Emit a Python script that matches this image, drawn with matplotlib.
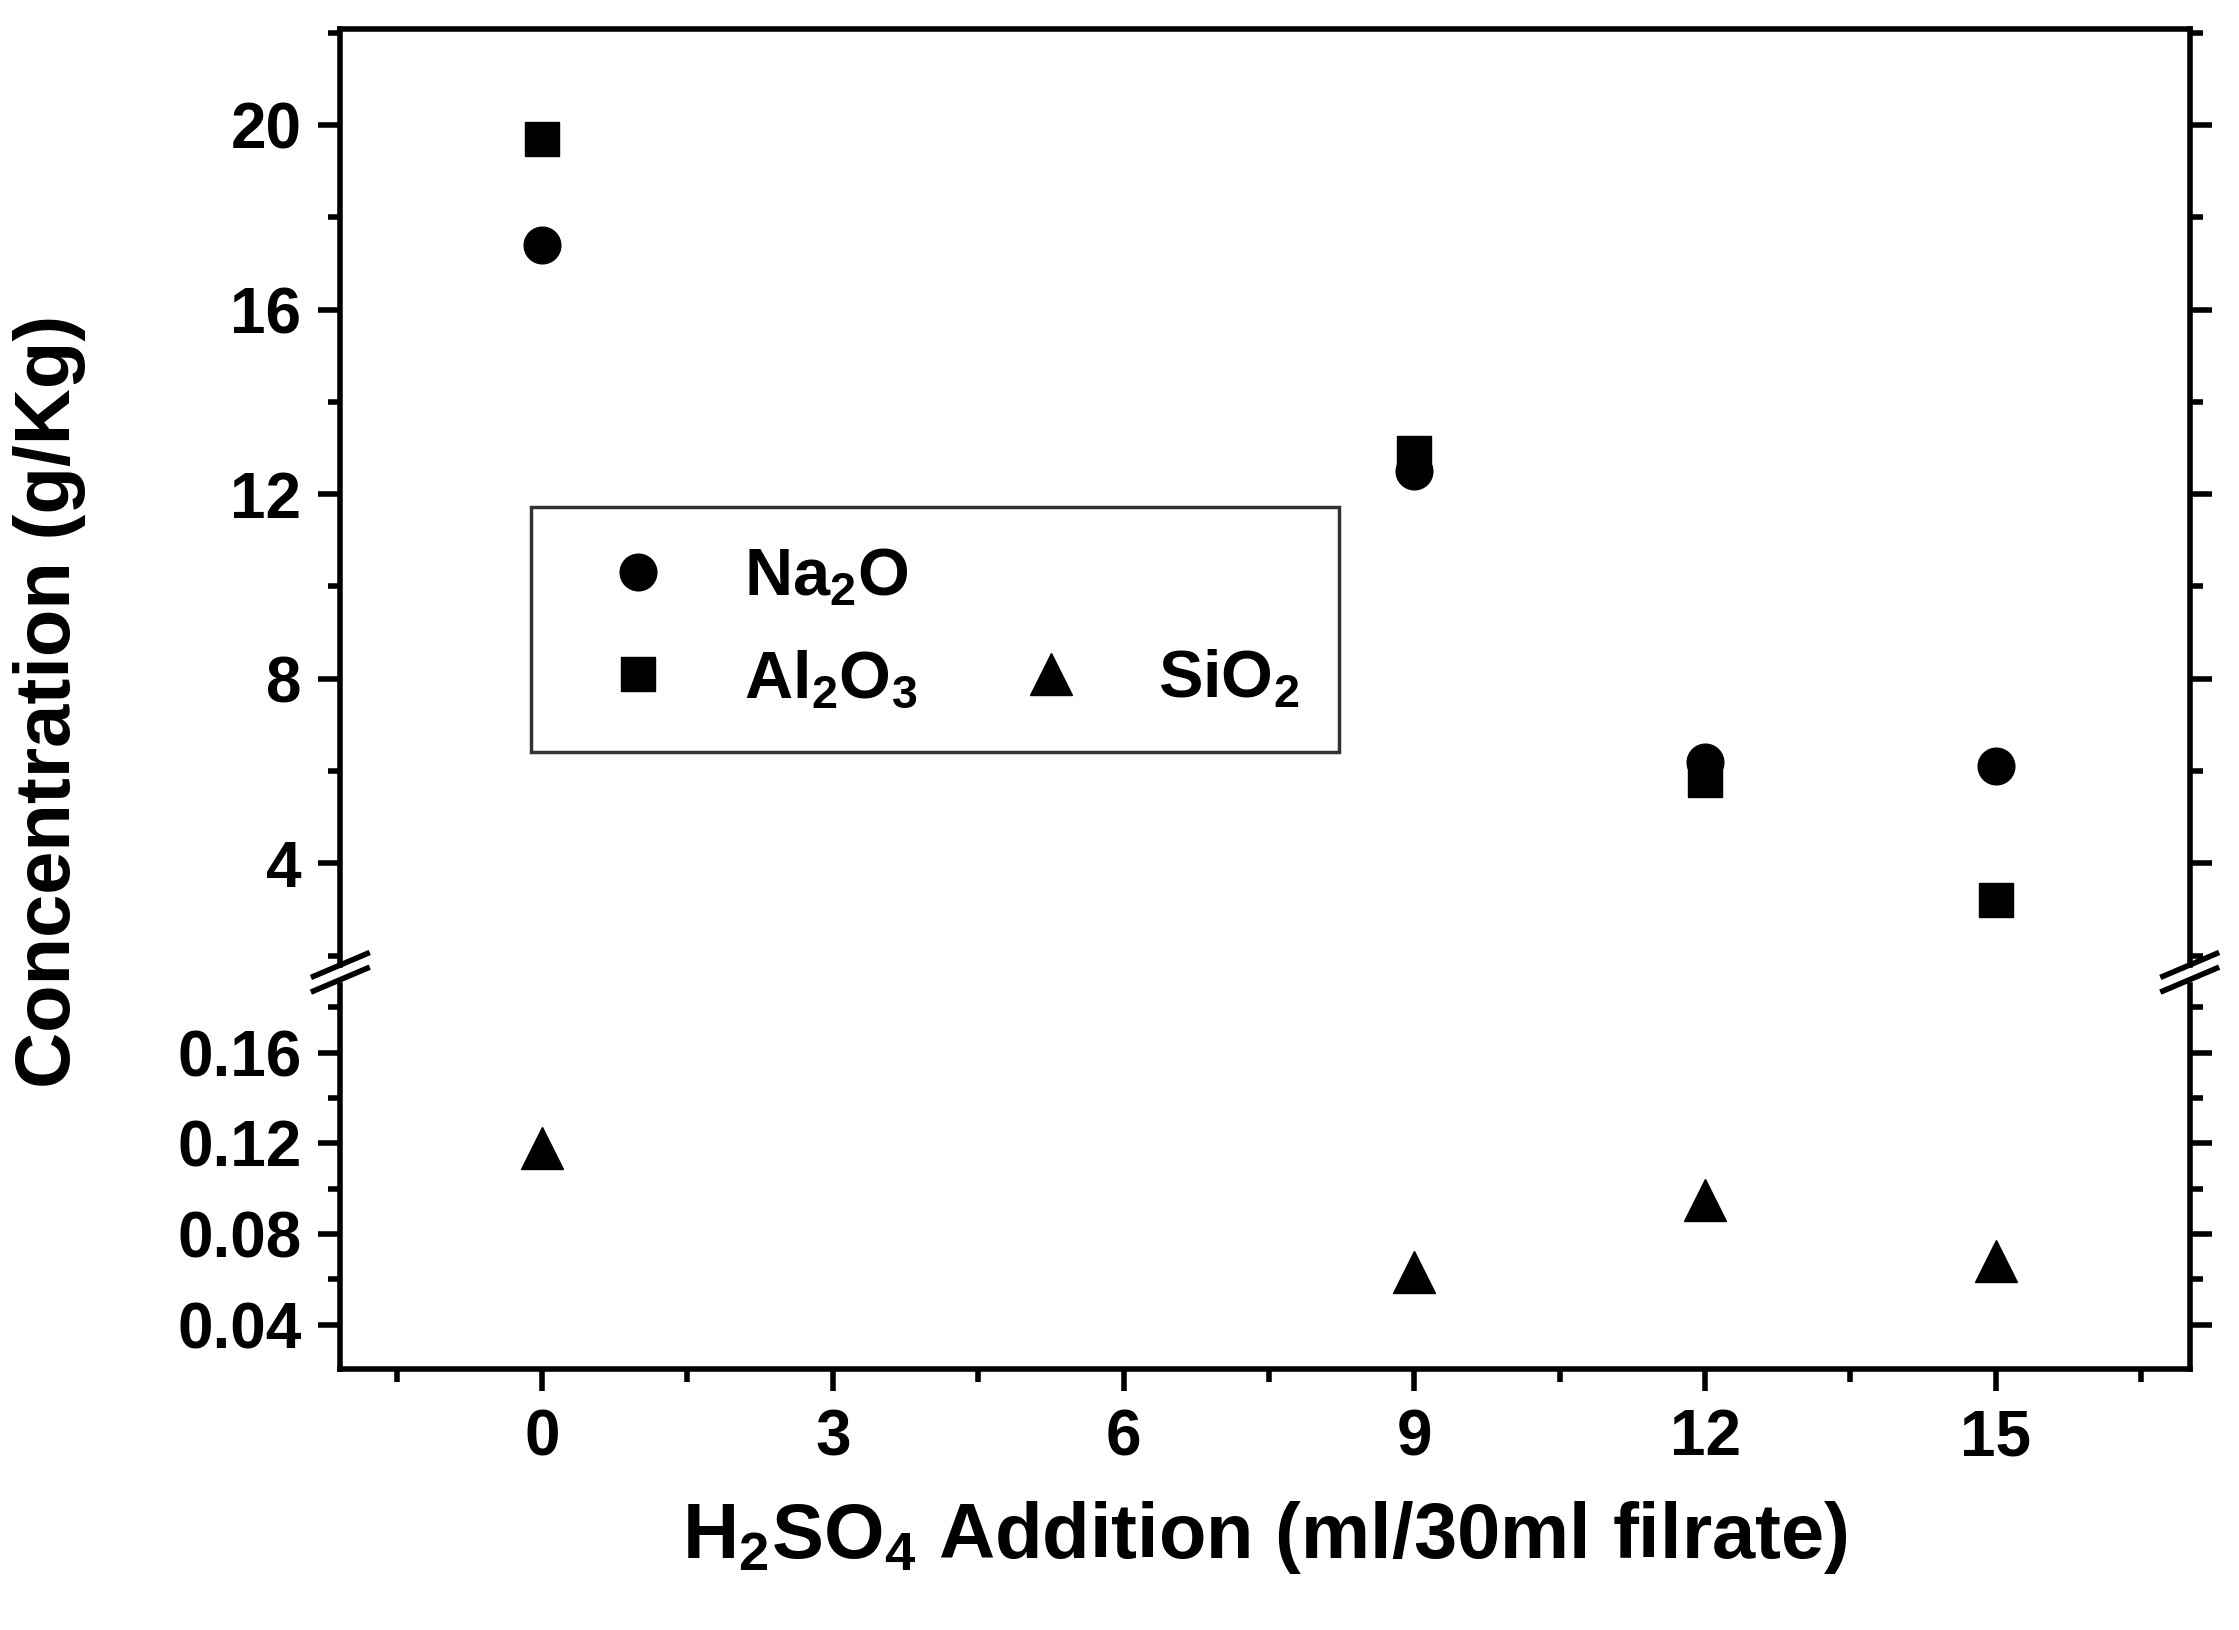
import matplotlib.pyplot as plt
from matplotlib.ticker import MultipleLocator
from matplotlib.lines import Line2D

x = [0, 9, 12, 15]
na2o = [17.4, 12.5, 6.2, 6.1]
al2o3 = [19.7, 12.9, 5.8, 3.2]
sio2 = [0.118, 0.063, 0.095, 0.068]

plt.rcParams['font.family'] = ['Liberation Sans', 'DejaVu Sans']
plt.rcParams['font.weight'] = 'bold'
plt.rcParams['mathtext.fontset'] = 'custom'
plt.rcParams['mathtext.rm'] = 'Liberation Sans:bold'
plt.rcParams['mathtext.bf'] = 'Liberation Sans:bold'
plt.rcParams['mathtext.default'] = 'bf'

fig = plt.figure(figsize=(22.39, 16.3), dpi=100)
L, R = 0.152, 0.978
ax1 = fig.add_axes([L, 0.408, R - L, 0.982 - 0.408])
ax2 = fig.add_axes([L, 0.160, R - L, 0.396 - 0.160], sharex=ax1)

ms = 24
ax1.plot(x, na2o, 'o', color='black', ms=ms * 1.1, label='Na$_2$O')
ax1.plot(x, al2o3, 's', color='black', ms=ms, label='Al$_2$O$_3$')
ax2.plot(x, sio2, '^', color='black', ms=ms * 1.25, label='SiO$_2$')

ax1.set_xlim(-2.08, 17.0)
ax1.set_ylim(1.8, 22.07)
ax2.set_ylim(0.0203, 0.19)
ax1.set_yticks([4, 8, 12, 16, 20])
ax1.yaxis.set_minor_locator(MultipleLocator(2))
ax2.set_yticks([0.04, 0.08, 0.12, 0.16])
ax2.set_yticklabels(['0.04', '0.08', '0.12', '0.16'])
ax2.yaxis.set_minor_locator(MultipleLocator(0.02))
ax2.set_xticks([0, 3, 6, 9, 12, 15])
ax2.xaxis.set_minor_locator(MultipleLocator(1.5))

for ax in (ax1, ax2):
    for s in ax.spines.values():
        s.set_linewidth(4)
    ax.tick_params(axis='both', which='major', direction='out', length=16, width=4,
                   labelsize=46, pad=12)
    ax.tick_params(axis='both', which='minor', direction='out', length=9, width=4)
    ax.tick_params(axis='y', which='both', right=True)
ax1.spines['bottom'].set_visible(False)
ax2.spines['top'].set_visible(False)
ax1.tick_params(axis='x', which='both', bottom=False, labelbottom=False)
ax2.tick_params(axis='x', which='both', top=False)

# break marks
kw = dict(color='black', lw=4, clip_on=False, transform=fig.transFigure)
for xe in (L, R):
    for yb in (0.399, 0.408):
        fig.add_artist(Line2D([xe - 0.012, xe + 0.012], [yb - 0.007, yb + 0.007], **kw))

ax2.set_xlabel('H$_2$SO$_4$ Addition (ml/30ml filrate)', fontsize=56,
               fontweight='bold', labelpad=22)
fig.text(0.022, 0.57, 'Concentration (g/Kg)', rotation=90, fontsize=56,
         fontweight='bold', ha='center', va='center')

h1, l1 = ax1.get_legend_handles_labels()
h2, l2 = ax2.get_legend_handles_labels()
blank = Line2D([], [], linestyle='none')
leg = ax1.legend([h1[0], h1[1], blank, h2[0]], [l1[0], l1[1], '', l2[0]], ncol=2,
                 loc='upper left', bbox_to_anchor=(0.085, 0.525), fontsize=48,
                 frameon=True, fancybox=False, edgecolor='black', borderpad=0.6,
                 handletextpad=0.6, columnspacing=1.0, labelspacing=0.6)
leg.get_frame().set_linewidth(2.5)

fig.savefig('out.png', dpi=100)
